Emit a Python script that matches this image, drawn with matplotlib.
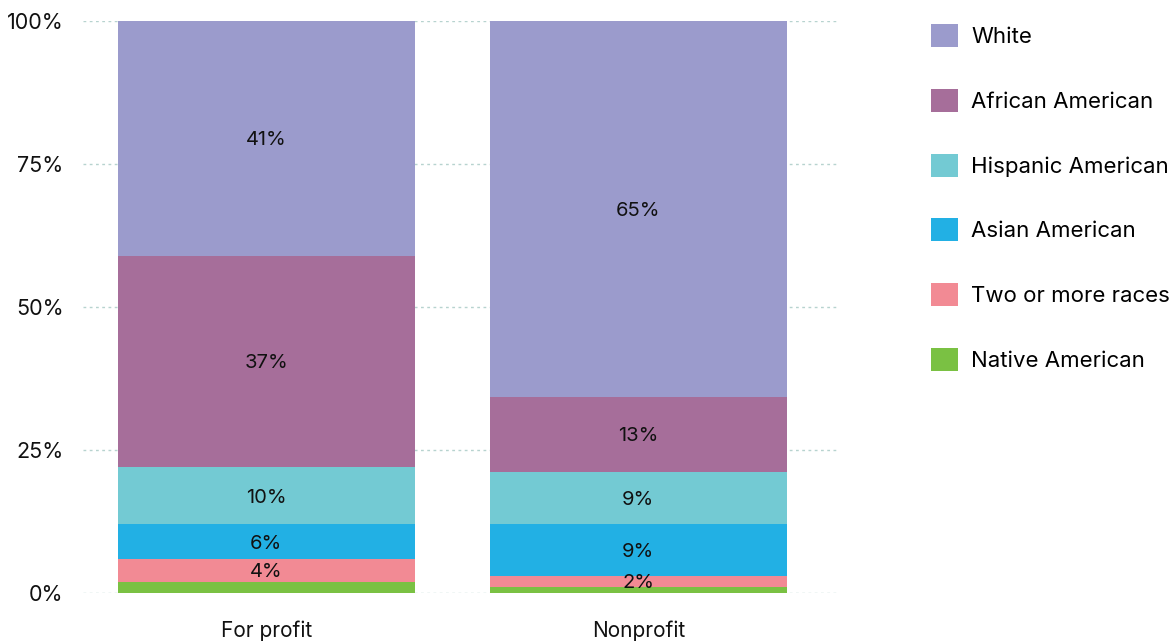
import matplotlib.pyplot as plt
from matplotlib.patches import Patch
from matplotlib.ticker import FuncFormatter

plt.rcParams['font.family'] = ['Inter', 'DejaVu Sans']

# Share of students by race/ethnicity (percent)
sectors = ['For profit', 'Nonprofit']
groups = ['Native American', 'Two or more races', 'Asian American',
          'Hispanic American', 'African American', 'White']
native = [2, 1]
two_or_more = [4, 2]
asian = [6, 9]
hispanic = [10, 9]
african = [37, 13]
white = [41, 65]
# which segments get a printed value
show_label = {
    'Native American': [False, False],
}

colors = {
    'White': '#9b9bcc',
    'African American': '#a66e9a',
    'Hispanic American': '#73cad3',
    'Asian American': '#22b0e4',
    'Two or more races': '#f28a94',
    'Native American': '#7ac143',
}

series = [native, two_or_more, asian, hispanic, african, white]

fig = plt.figure(figsize=(11.73, 6.41), dpi=100)
ax = fig.add_axes([83 / 1173, 48 / 641, 755 / 1173, 572 / 641])

x = range(len(sectors))
totals = [sum(s[i] for s in series) for i in x]
bottom = [0.0] * len(sectors)
for name, vals in zip(groups, series):
    # stacked to 100% of each sector's total
    share = [v / t * 100 for v, t in zip(vals, totals)]
    ax.bar(x, share, bottom=bottom, width=0.8, color=colors[name],
           linewidth=0, zorder=2)
    flags = show_label.get(name, [True] * len(sectors))
    for i in x:
        if flags[i]:
            ax.text(i, bottom[i] + share[i] / 2, f'{vals[i]}%',
                    ha='center', va='center_baseline', fontsize=14.5,
                    color='#111111', zorder=3)
    bottom = [b + s for b, s in zip(bottom, share)]

ax.set_xlim(-0.493, 1.537)
ax.set_ylim(0, 100)
ax.set_yticks([0, 25, 50, 75, 100])
ax.yaxis.set_major_formatter(FuncFormatter(lambda v, _: f'{v:.0f}%'))
ax.set_xticks(list(x))
ax.set_xticklabels(sectors)
ax.tick_params(axis='both', length=0, colors='#111111')
ax.tick_params(axis='y', pad=14, labelsize=15.5)
ax.tick_params(axis='x', pad=20, labelsize=15)
ax.yaxis.grid(True, color='#b7d3cf', linestyle=(0, (2, 2.5)), linewidth=1,
              zorder=0)
ax.set_axisbelow(True)
for spine in ax.spines.values():
    spine.set_visible(False)

handles = [Patch(facecolor=colors[g], edgecolor='none') for g in reversed(groups)]
fig.legend(handles, list(reversed(groups)), loc='upper left',
           bbox_to_anchor=(922 / 1173, 1 - 15 / 641), frameon=False,
           fontsize=16, handlelength=1.22, handleheight=1.22,
           labelspacing=1.88, handletextpad=0.6, borderaxespad=0)

fig.savefig('out.png', dpi=100)
